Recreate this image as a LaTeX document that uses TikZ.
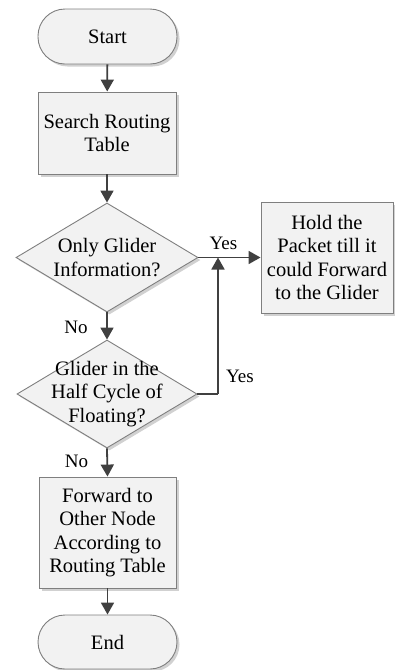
\documentclass[tikz,border=0pt]{standalone}
\usepackage{fontspec}
\setmainfont{Liberation Serif}
\usetikzlibrary{shapes.geometric,arrows.meta,shadows}
\definecolor{boxfill}{HTML}{F2F2F2}
\definecolor{boxline}{HTML}{7F7F7F}
\definecolor{arrowc}{HTML}{404040}
\begin{document}
\begin{tikzpicture}[x=1pt,y=-1pt,
  every node/.style={font=\fontsize{20.5}{23.5}\selectfont, align=center, inner sep=0pt},
  sh/.style={drop shadow={shadow xshift=2.5pt, shadow yshift=-2.5pt, fill=black, opacity=0.18}},
  term/.style={draw=boxline, fill=boxfill, line width=0.9pt, rectangle, rounded corners=27pt, sh},
  proc/.style={draw=boxline, fill=boxfill, line width=0.9pt, rectangle, sh},
  dec/.style={draw=boxline, fill=boxfill, line width=0.9pt, diamond, sh},
  lbl/.style={font=\fontsize{19}{22}\selectfont},
  arr/.style={draw=arrowc, line width=1.8pt, -{Triangle[width=13pt,length=12pt]}},
  ln/.style={draw=arrowc, line width=1.8pt}
]
\useasboundingbox (0,0) rectangle (394,670);
\node[term, minimum width=139pt, minimum height=55pt] (start) at (107.5,36.5) {Start};
\node[proc, minimum width=138pt, minimum height=82pt] (search) at (107,133) {Search Routing\\Table};
\node[dec, minimum width=182pt, minimum height=109pt] (d1) at (107,257.5) {};
\node (d1t) at (d1) {Only Glider\\Information?};
\node[proc, minimum width=132pt, minimum height=111pt] (hold) at (327,257.5) {Hold the\\Packet till it\\could Forward\\to the Glider};
\node[dec, minimum width=180pt, minimum height=108pt] (d2) at (107,394) {};
\node (d2t) at (d2) {Glider in the\\Half Cycle of\\Floating?};
\node[proc, minimum width=137pt, minimum height=111pt] (fwd) at (107.5,532.5) {Forward to\\Other Node\\According to\\Routing Table};
\node[term, minimum width=139pt, minimum height=54pt] (end) at (107.5,642) {End};
\coordinate (j) at (218,257.5);
\coordinate (c) at (218,394);
\draw[arr] (start) -- (search);
\draw[arr] (search) -- (d1.north);
\draw[arr] (d1.east) -- (hold.west);
\draw[arr] (d1.south) -- (d2.north);
\draw[ln] (d2.east) -- (c);
\draw[arr] (c) -- (j);
\draw[arr] (d2.south) -- (fwd.north);
\draw[arr] (fwd) -- (end);
\node[lbl] (yes1) at (223.5,243) {Yes};
\node[lbl] (yes2) at (240,376) {Yes};
\node[lbl] (no1) at (76,327) {No};
\node[lbl] (no2) at (76.5,461) {No};
\end{tikzpicture}
\end{document}
